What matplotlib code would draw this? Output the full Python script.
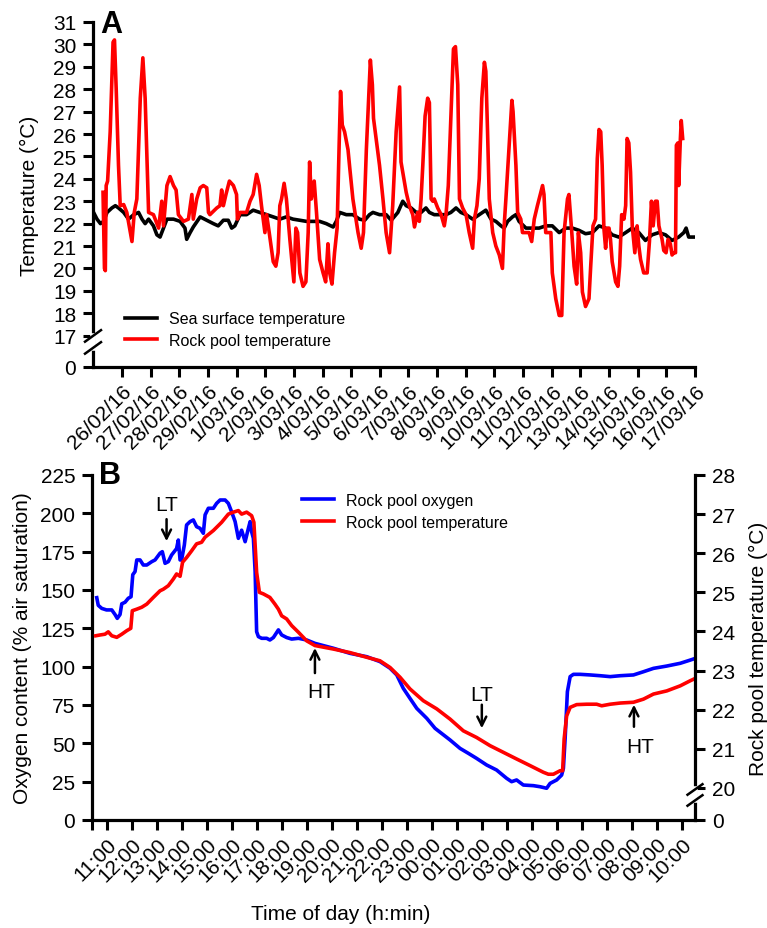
import matplotlib
matplotlib.use("Agg")
import matplotlib.pyplot as plt
from matplotlib.lines import Line2D
from matplotlib.transforms import IdentityTransform

plt.rcParams['font.family'] = ['Liberation Sans', 'DejaVu Sans']

# ---- Panel A: daily temperature record (days since 26/02/16) ----
date_labels = ['26/02/16', '27/02/16', '28/02/16', '29/02/16'] + \
              ['%d/03/16' % d for d in range(1, 18)]

days_sst = [-0.99, -0.87, -0.75, -0.64, -0.52, -0.35, -0.23, -0.12, 0.06, 0.23,
            0.41, 0.58, 0.70, 0.81, 0.93, 1.10, 1.22, 1.33, 1.45, 1.57,
            1.80, 2.03, 2.20, 2.26, 2.38, 2.49, 2.73, 2.96, 3.19, 3.36,
            3.54, 3.71, 3.83, 3.94, 4.12, 4.35, 4.58, 4.81, 5.05, 5.28,
            5.51, 5.74, 5.97, 6.21, 6.44, 6.67, 6.90, 7.13, 7.37, 7.48,
            7.60, 7.83, 8.06, 8.29, 8.47, 8.64, 8.76, 8.99, 9.22, 9.40,
            9.63, 9.80, 9.92, 10.09, 10.27, 10.44, 10.61, 10.73, 10.90, 11.08,
            11.31, 11.48, 11.66, 11.83, 12.01, 12.24, 12.47, 12.70, 12.88, 13.05,
            13.23, 13.34, 13.46, 13.63, 13.75, 13.86, 14.10, 14.33, 14.56, 14.79,
            15.02, 15.26, 15.49, 15.72, 15.95, 16.18, 16.42, 16.65, 16.88, 17.11,
            17.34, 17.58, 17.81, 18.04, 18.27, 18.50, 18.74, 18.97, 19.20, 19.43,
            19.61, 19.69, 19.78, 19.95]
temp_sst = [22.5, 22.2, 22.0, 22.1, 22.5, 22.7, 22.8, 22.7, 22.5, 22.2,
            22.4, 22.5, 22.2, 22.0, 22.2, 21.9, 21.5, 21.4, 21.8, 22.2,
            22.2, 22.1, 21.8, 21.3, 21.6, 21.85, 22.3, 22.15, 22.0, 21.9,
            22.15, 22.15, 21.8, 21.9, 22.4, 22.4, 22.6, 22.5, 22.4, 22.3,
            22.2, 22.3, 22.2, 22.15, 22.1, 22.1, 22.1, 22.0, 21.85, 22.1,
            22.5, 22.4, 22.4, 22.2, 22.15, 22.4, 22.5, 22.4, 22.4, 22.15,
            22.5, 23.0, 22.8, 22.7, 22.5, 22.5, 22.7, 22.5, 22.4, 22.4,
            22.4, 22.5, 22.7, 22.5, 22.4, 22.2, 22.4, 22.6, 22.2, 22.1,
            21.9, 21.8, 22.1, 22.3, 22.4, 22.1, 21.8, 21.8, 21.8, 21.9,
            21.9, 21.6, 21.8, 21.8, 21.7, 21.55, 21.6, 21.9, 21.8, 21.5,
            21.4, 21.6, 21.8, 21.6, 21.25, 21.5, 21.6, 21.5, 21.25, 21.4,
            21.6, 21.8, 21.4, 21.4]

days_pool = [-0.66, -0.61, -0.58, -0.55, -0.50, -0.41, -0.31, -0.26, -0.20, -0.12,
             -0.06, 0.06, 0.17, 0.35, 0.43, 0.52, 0.64, 0.73, 0.81, 0.93,
             1.10, 1.28, 1.39, 1.45, 1.57, 1.68, 1.80, 1.89, 1.97, 2.15,
             2.32, 2.44, 2.49, 2.61, 2.73, 2.84, 2.96, 3.02, 3.07, 3.31,
             3.42, 3.48, 3.54, 3.63, 3.75, 3.89, 4.00, 4.03, 4.12, 4.35,
             4.47, 4.58, 4.70, 4.79, 4.87, 4.99, 5.05, 5.14, 5.28, 5.37,
             5.45, 5.51, 5.57, 5.66, 5.74, 5.86, 6.00, 6.07, 6.13, 6.21,
             6.32, 6.42, 6.50, 6.55, 6.61, 6.71, 6.79, 6.90, 7.02, 7.11,
             7.19, 7.25, 7.33, 7.42, 7.51, 7.58, 7.63, 7.69, 7.77, 7.89,
             7.95, 8.06, 8.24, 8.35, 8.43, 8.53, 8.67, 8.74, 8.78, 8.87,
             8.99, 9.11, 9.22, 9.34, 9.45, 9.57, 9.69, 9.74, 9.80, 9.92,
             10.03, 10.15, 10.21, 10.27, 10.32, 10.38, 10.44, 10.50, 10.58, 10.67,
             10.73, 10.79, 10.85, 10.90, 11.02, 11.14, 11.25, 11.31, 11.39, 11.48,
             11.57, 11.64, 11.72, 11.78, 11.89, 12.01, 12.12, 12.24, 12.30, 12.39,
             12.47, 12.56, 12.65, 12.70, 12.76, 12.82, 12.94, 13.05, 13.17, 13.28,
             13.34, 13.40, 13.52, 13.61, 13.65, 13.75, 13.81, 13.92, 13.98, 14.10,
             14.21, 14.30, 14.39, 14.50, 14.62, 14.68, 14.73, 14.79, 14.91, 14.97,
             15.02, 15.14, 15.26, 15.35, 15.43, 15.55, 15.60, 15.70, 15.78, 15.87,
             15.93, 16.01, 16.07, 16.18, 16.30, 16.36, 16.44, 16.53, 16.59, 16.65,
             16.71, 16.76, 16.82, 16.88, 16.94, 17.00, 17.05, 17.11, 17.23, 17.31,
             17.37, 17.44, 17.52, 17.58, 17.63, 17.69, 17.75, 17.81, 17.90, 17.98,
             18.04, 18.10, 18.21, 18.33, 18.41, 18.48, 18.54, 18.62, 18.68, 18.74,
             18.85, 18.91, 18.99, 19.06, 19.14, 19.20, 19.26, 19.32, 19.35, 19.40,
             19.43, 19.49, 19.52, 19.57]
temp_pool = [23.4, 20.0, 19.9, 23.7, 23.9, 26.1, 30.1, 30.2, 28.0, 24.6,
             22.8, 22.85, 22.5, 21.2, 22.5, 23.1, 27.6, 29.4, 27.6, 22.5,
             22.4, 21.8, 23.0, 21.9, 23.7, 24.1, 23.7, 23.5, 22.4, 22.1,
             22.2, 23.3, 22.2, 23.1, 23.6, 23.7, 23.6, 22.5, 22.4, 22.7,
             22.8, 23.5, 22.8, 23.3, 23.9, 23.7, 23.3, 22.2, 22.5, 22.5,
             23.0, 23.3, 24.2, 23.7, 22.8, 21.6, 22.4, 21.6, 20.3, 20.1,
             20.7, 22.8, 23.1, 23.8, 23.1, 21.3, 19.4, 21.8, 21.6, 19.8,
             19.2, 19.4, 21.6, 24.75, 23.1, 23.9, 22.5, 20.4, 19.8, 19.4,
             21.1, 19.8, 19.3, 20.7, 21.8, 25.5, 27.9, 26.4, 26.1, 25.3,
             24.5, 23.1, 21.6, 20.9, 21.6, 25.3, 29.3, 28.2, 26.7, 25.8,
             24.6, 23.1, 21.6, 20.7, 22.8, 26.1, 28.1, 24.75, 24.3, 23.4,
             22.8, 22.4, 21.85, 22.2, 22.5, 22.1, 23.1, 24.6, 26.8, 27.6,
             27.4, 23.1, 23.0, 23.1, 22.7, 22.4, 21.9, 22.4, 23.7, 26.8,
             29.8, 29.9, 28.2, 23.1, 22.7, 22.4, 21.6, 20.9, 22.2, 22.8,
             24.0, 27.6, 29.2, 28.8, 26.1, 23.1, 21.6, 21.0, 20.6, 20.0,
             21.9, 23.1, 25.6, 27.5, 27.0, 24.6, 22.5, 22.2, 21.6, 21.6,
             21.6, 21.2, 22.2, 22.8, 23.4, 23.7, 23.3, 21.6, 21.6, 21.6,
             19.8, 18.65, 17.9, 17.9, 21.6, 23.1, 23.3, 21.6, 20.1, 19.3,
             21.6, 20.7, 18.95, 18.3, 18.65, 20.1, 21.9, 22.2, 24.9, 26.2,
             26.1, 24.6, 21.8, 20.9, 21.8, 21.8, 21.3, 20.3, 19.4, 19.2,
             20.1, 22.4, 22.2, 22.8, 25.8, 25.6, 24.3, 21.9, 20.7, 21.9,
             21.0, 20.4, 19.8, 19.8, 21.2, 23.0, 21.9, 23.0, 23.0, 21.9,
             21.3, 20.8, 20.7, 21.3, 21.1, 20.6, 20.7, 20.7, 25.5, 25.6,
             23.7, 25.8, 26.6, 25.8]

# ---- Panel B: one tidal day (hours since 11:00) ----
time_labels = ['%02d:00' % ((11 + i) % 24) for i in range(24)]

hours_o2 = [-0.39, -0.33, -0.19, 0.0, 0.21, 0.34, 0.43, 0.54, 0.61, 0.74,
            0.87, 0.98, 1.05, 1.14, 1.21, 1.34, 1.47, 1.61, 1.81, 1.94,
            2.14, 2.23, 2.34, 2.47, 2.60, 2.80, 2.87, 2.94, 3.00, 3.11,
            3.20, 3.34, 3.47, 3.60, 3.74, 3.87, 3.94, 4.07, 4.27, 4.40,
            4.54, 4.74, 4.87, 5.00, 5.14, 5.27, 5.40, 5.54, 5.67, 5.74,
            5.80, 5.87, 5.94, 6.00, 6.07, 6.20, 6.40, 6.53, 6.67, 6.87,
            7.00, 7.20, 7.40, 7.67, 8.00, 8.33, 9.07, 9.73, 10.40, 10.93,
            11.33, 11.60, 11.86, 12.13, 12.40, 12.80, 13.13, 13.39, 13.73, 14.13,
            14.46, 14.79, 15.19, 15.59, 15.99, 16.19, 16.39, 16.66, 17.06, 17.33,
            17.59, 17.73, 17.99, 18.19, 18.26, 18.33, 18.42, 18.53, 18.66, 18.93,
            19.33, 19.73, 20.13, 20.53, 21.06, 21.46, 21.86, 22.39, 22.93, 23.33,
            23.53]
oxygen = [145, 140, 138, 137, 137, 134, 131.5, 134, 141, 142,
          144.6, 145.6, 160, 162, 169.6, 169.6, 166.3, 166.3, 168.5, 169.6,
          174, 175, 167.4, 168.5, 172.8, 177, 182.6, 169.6, 169.6, 179.3,
          192.4, 194.6, 195.7, 191.3, 190.2, 187, 199, 203.3, 203.3, 206.5,
          208.7, 208.7, 206.5, 201, 194.6, 183.7, 189, 181.5, 190.2, 194.6,
          188, 183.7, 162, 122.8, 119.6, 118.5, 118.5, 117.4, 119, 124,
          120.7, 119, 118, 118.5, 117.4, 115.2, 112, 108.7, 106.5, 103.3,
          99, 94.6, 85.9, 79.3, 72.8, 66.3, 59.8, 56.5, 52.2, 46.7,
          43.5, 40.2, 35.9, 32.6, 27.2, 25, 26.1, 22.8, 22.4, 21.7,
          20.7, 23.9, 26.1, 29.3, 33.7, 53.3, 83.7, 93.5, 95, 95,
          94.6, 94.1, 93.5, 94.1, 94.6, 96.7, 98.9, 100.4, 102.2, 104.3,
          105.4]

hours_tb = [-0.43, -0.26, -0.06, 0.07, 0.21, 0.41, 0.61, 0.81, 0.97, 1.03,
            1.21, 1.41, 1.61, 1.87, 2.14, 2.27, 2.47, 2.67, 2.80, 2.94,
            3.04, 3.20, 3.40, 3.60, 3.80, 3.94, 4.27, 4.60, 4.87, 5.07,
            5.27, 5.40, 5.60, 5.80, 5.89, 6.00, 6.11, 6.27, 6.53, 6.73,
            6.87, 7.00, 7.20, 7.40, 7.67, 8.00, 8.33, 9.07, 9.73, 10.40,
            10.93, 11.33, 11.73, 12.13, 12.66, 13.20, 13.73, 14.26, 14.79, 15.33,
            15.86, 16.39, 16.93, 17.46, 17.66, 17.86, 18.13, 18.23, 18.29, 18.39,
            18.53, 18.79, 19.19, 19.59, 19.79, 20.13, 20.53, 21.06, 21.46, 21.86,
            22.39, 22.93, 23.33, 23.53]
temp_b = [23.89, 23.91, 23.93, 23.99, 23.89, 23.85, 23.93, 24.02, 24.08, 24.53,
          24.57, 24.62, 24.70, 24.87, 25.04, 25.08, 25.17, 25.34, 25.47, 25.41,
          25.77, 25.89, 26.06, 26.24, 26.28, 26.41, 26.58, 26.79, 27.00, 27.05,
          27.09, 27.00, 27.05, 26.96, 26.79, 25.51, 25.00, 24.96, 24.87, 24.70,
          24.57, 24.40, 24.32, 24.15, 23.98, 23.76, 23.64, 23.55, 23.46, 23.34,
          23.25, 23.08, 22.83, 22.53, 22.23, 22.02, 21.76, 21.46, 21.29, 21.08,
          20.91, 20.74, 20.57, 20.40, 20.35, 20.35, 20.44, 20.44, 21.25, 21.84,
          22.06, 22.13, 22.14, 22.14, 22.10, 22.14, 22.17, 22.19, 22.27, 22.40,
          22.48, 22.61, 22.74, 22.80]

# tide annotations: label, hour, text y, arrow tail y, arrow tip y (oxygen units)
tide_marks = [('LT', 2.40, 206, 198, 180),
              ('HT', 8.33, 84, 94, 114),
              ('LT', 15.0, 82, 77, 58),
              ('HT', 21.08, 48, 59, 77)]

A_ZERO = 15.6    # where the broken axis puts "0" in panel A
B_ZERO = 19.18   # same for the right axis of panel B

fig = plt.figure(figsize=(7.67, 9.29), dpi=100)
axA = fig.add_axes([93 / 767, 1 - 368 / 929, 602 / 767, 345 / 929])
axB = fig.add_axes([92 / 767, 1 - 821 / 929, 603 / 767, 345 / 929])
axB2 = axB.twinx()


def style(ax, sides):
    for s in ['left', 'right', 'top', 'bottom']:
        ax.spines[s].set_visible(s in sides)
        ax.spines[s].set_linewidth(2.3)
    ax.tick_params(direction='out', width=2.2, length=7, labelsize=15, pad=5)


def axis_break(ax, xfrac, yval, gap, hw, hh):
    cx, cy = ax.get_yaxis_transform().transform((xfrac, yval))
    fig.add_artist(Line2D([cx, cx], [cy - gap, cy + gap], transform=IdentityTransform(),
                          color='white', lw=4, zorder=10))
    for off in (-gap, gap):
        fig.add_artist(Line2D([cx - hw, cx + hw], [cy + off - hh, cy + off + hh],
                              transform=IdentityTransform(), color='black', lw=1.8,
                              solid_capstyle='butt', zorder=11))


# ---- panel A ----
style(axA, ['left', 'bottom'])
axA.plot(days_sst, temp_sst, color='black', lw=2.6, label='Sea surface temperature')
axA.plot(days_pool, temp_pool, color='#ff0000', lw=2.6, label='Rock pool temperature')
axA.set_xlim(-1.01, 20)
axA.set_ylim(A_ZERO, 31)
axA.set_yticks([A_ZERO] + list(range(17, 32)))
axA.set_yticklabels(['0'] + [str(v) for v in range(17, 32)])
axA.set_xticks(range(len(date_labels)))
axA.set_xticklabels(date_labels, rotation=45, ha='right', rotation_mode='anchor', fontsize=15)
axA.tick_params(axis='x', pad=3)
axA.set_ylabel('Temperature (°C)', fontsize=15, labelpad=10)
axA.legend(loc='upper left', bbox_to_anchor=(0.053, 0.162), frameon=False, fontsize=11.5,
           handlelength=2.0, handletextpad=0.75, labelspacing=0.42,
           borderpad=0, borderaxespad=0)
axA.text(0.012, 0.995, 'A', transform=axA.transAxes, fontsize=22, fontweight='bold',
         va='center', ha='left')

# ---- panel B ----
style(axB, ['left', 'bottom'])
style(axB2, ['right'])
lo, = axB.plot(hours_o2, oxygen, color='#0000ff', lw=2.6, label='Rock pool oxygen')
lt, = axB2.plot(hours_tb, temp_b, color='#ff0000', lw=2.6, label='Rock pool temperature')
axB.set_xlim(-0.58, 23.52)
axB.set_ylim(0, 225)
axB2.set_ylim(B_ZERO, 28)
axB.set_yticks(range(0, 226, 25))
axB2.set_yticks([B_ZERO] + list(range(20, 29)))
axB2.set_yticklabels(['0'] + [str(v) for v in range(20, 29)])
axB.set_xticks(range(len(time_labels)))
axB.set_xticks([-0.58], minor=True)
axB.tick_params(axis='x', which='minor', direction='out', width=2.2, length=7)
axB.set_xticklabels(time_labels, rotation=45, ha='right', rotation_mode='anchor', fontsize=15)
axB.tick_params(axis='x', pad=3)
axB.set_ylabel('Oxygen content (% air saturation)', fontsize=15, labelpad=6)
axB2.set_ylabel('Rock pool temperature (°C)', fontsize=15, labelpad=10)
axB.legend(handles=[lo, lt], loc='upper left', bbox_to_anchor=(0.348, 0.948), frameon=False,
           fontsize=11.5, handlelength=2.0, handletextpad=0.75, labelspacing=0.42,
           borderpad=0, borderaxespad=0)
axB.text(0.012, 1.0, 'B', transform=axB.transAxes, fontsize=22, fontweight='bold',
         va='center', ha='left')

for lab, h, ty, tail, tip in tide_marks:
    axB.annotate('', xy=(h, tip), xytext=(h, tail),
                 arrowprops=dict(arrowstyle='->', lw=1.8, color='black', mutation_scale=16))
    axB.text(h + (0.25 if lab == 'HT' else 0), ty, lab, fontsize=15, ha='center', va='center')

fig.text(341 / 767, 1 - 915 / 929, 'Time of day (h:min)', fontsize=15, ha='center', va='center')

axis_break(axA, 0, A_ZERO + 1.12, 6, 9, 6.5)
axis_break(axB2, 1, 19.82, 5.5, 8.5, 6)

fig.savefig('out.png', dpi=100, facecolor='white')
